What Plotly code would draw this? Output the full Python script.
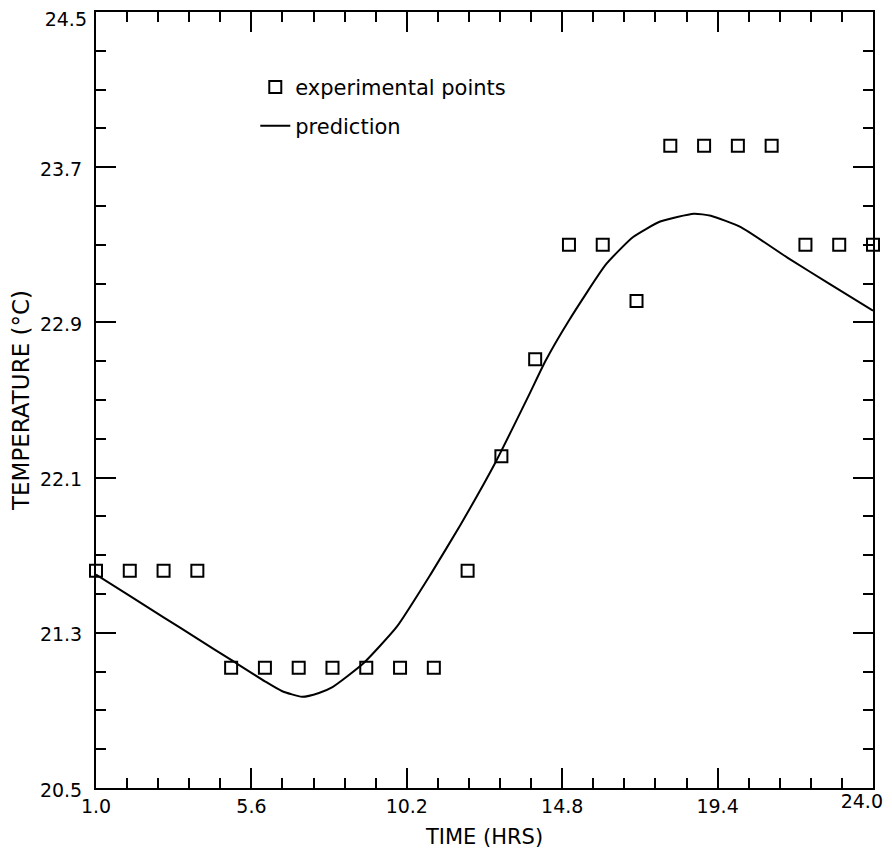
import plotly.graph_objects as go

# Experimental points (hour, temperature °C)
exp_hours = list(range(1, 25))
exp_temps = [21.62, 21.62, 21.62, 21.62, 21.12, 21.12, 21.12, 21.12, 21.12, 21.12, 21.12,
             21.62, 22.21, 22.71, 23.30, 23.30, 23.01, 23.81, 23.81, 23.81, 23.81,
             23.30, 23.30, 23.30]

# Prediction curve
pred_hours = [1, 2, 3, 4, 5, 6, 6.5, 7.1, 7.6, 8.0, 8.9, 9.9, 10.9, 11.8, 12.8,
              13.8, 14.3, 15.0, 16.1, 16.9, 17.7, 18.7, 19.2, 20.1, 21.5, 22.7, 24]
pred_temps = [21.60, 21.49, 21.38, 21.27, 21.16, 21.05, 21.00, 20.97, 20.99, 21.02,
              21.14, 21.33, 21.60, 21.86, 22.17, 22.52, 22.70, 22.91, 23.20, 23.34,
              23.42, 23.46, 23.45, 23.39, 23.23, 23.10, 22.96]

x_ticks = [1.0, 5.6, 10.2, 14.8, 19.4]
x_tick_labels = ["1.0", "5.6", "10.2", "14.8", "19.4"]
x_last_tick = [24.0]
x_last_label = ["24.0"]
y_ticks = [20.5, 21.3, 22.1, 22.9, 23.7]
y_tick_labels = ["20.5", "21.3", "22.1", "22.9", "23.7"]
y_top_tick = [24.5]
y_top_label = ["24.5"]
x_range = [1.0, 24.0]
y_range = [20.5, 24.5]

FONT = "DejaVu Sans"

fig = go.Figure()
fig.add_trace(go.Scatter(
    x=exp_hours, y=exp_temps, mode="markers", name="experimental points",
    marker=dict(symbol="square-open", size=12, color="black", line=dict(width=2)),
    cliponaxis=False, legend="legend"))
# the prediction uses overlaid x/y axes with the same ranges (they only carry
# the corner tick labels, nudged inward as in the reference)
fig.add_trace(go.Scatter(
    x=pred_hours, y=pred_temps, mode="lines", name="prediction",
    line=dict(color="black", width=2, shape="spline", smoothing=0.5),
    xaxis="x2", yaxis="y2", legend="legend2"))

axis_common = dict(
    showline=True, linecolor="black", linewidth=2, mirror="ticks",
    ticks="inside", ticklen=20, tickwidth=2, tickcolor="black",
    showgrid=False, zeroline=False, automargin=False,
    ticklabeloverflow="allow",
    tickfont=dict(family=FONT, size=19, color="black"),
)
overlay_common = dict(
    ticks="", showline=False, showgrid=False, zeroline=False,
    automargin=False, ticklabeloverflow="allow",
    tickfont=dict(family=FONT, size=19, color="black"),
)

fig.update_layout(
    xaxis=dict(
        range=x_range, tickvals=x_ticks + x_last_tick,
        ticktext=x_tick_labels + [""],
        minor=dict(dtick=0.92, tick0=1.0, ticks="inside", ticklen=10, tickwidth=2,
                   tickcolor="black", showgrid=False),
        title=dict(text="TIME (HRS)", font=dict(family=FONT, size=21, color="black"),
                   standoff=14),
        **axis_common),
    yaxis=dict(
        range=y_range, tickvals=y_ticks + y_top_tick, ticktext=y_tick_labels + [""],
        ticklabelstandoff=8, ticklabelshift=2,
        minor=dict(dtick=0.2, tick0=20.5, ticks="inside", ticklen=10, tickwidth=2,
                   tickcolor="black", showgrid=False),
        title=dict(text="TEMPERATURE (°C)", font=dict(family=FONT, size=23, color="black"),
                   standoff=17),
        **axis_common),
    xaxis2=dict(
        overlaying="x", side="bottom", range=x_range, anchor="y2",
        tickvals=x_last_tick, ticktext=x_last_label,
        ticklabelposition="outside left", ticklabelshift=10,
        **overlay_common),
    yaxis2=dict(
        overlaying="y", side="left", range=y_range, anchor="x2",
        tickvals=y_top_tick, ticktext=y_top_label,
        ticklabelstandoff=8, ticklabelshift=7,
        **overlay_common),
)

legend_common = dict(
    font=dict(family=FONT, size=21, color="black"),
    bgcolor="rgba(0,0,0,0)", xanchor="left", yanchor="middle",
)

# The page body has an 8px default margin; size the figure so the plot area
# lands where the reference has it.
fig.update_layout(
    width=884, height=843,
    margin=dict(l=88, r=19, t=4, b=63),
    plot_bgcolor="white", paper_bgcolor="white",
    showlegend=True,
    legend=dict(x=0.205, y=0.903, **legend_common),
    legend2=dict(x=0.205, y=0.853, **legend_common),
)

fig.write_html("out.html")
